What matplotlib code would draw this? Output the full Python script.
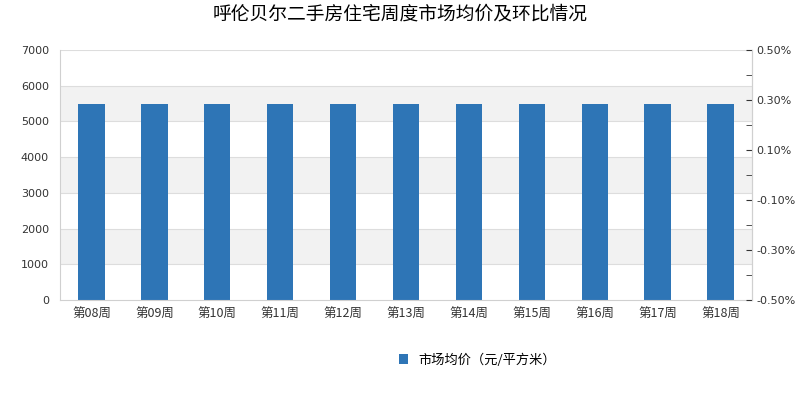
import matplotlib.pyplot as plt
from matplotlib.ticker import FuncFormatter

plt.rcParams['font.family'] = ['Noto Sans CJK SC', 'DejaVu Sans']

weeks = ['第08周', '第09周', '第10周', '第11周', '第12周', '第13周',
         '第14周', '第15周', '第16周', '第17周', '第18周']
prices = [5490, 5490, 5490, 5490, 5490, 5490, 5490, 5490, 5490, 5490, 5490]

fig = plt.figure(figsize=(8, 4), dpi=100)
ax = fig.add_axes([0.075, 0.25, 0.865, 0.625])

# alternating background bands
for lo in (1000, 3000, 5000):
    ax.axhspan(lo, lo + 1000, color='#f2f2f2', zorder=0, lw=0)
for y in range(1000, 7001, 1000):
    ax.axhline(y, color='#dddddd', lw=0.8, zorder=0.5)

x = range(len(weeks))
ax.bar(x, prices, width=0.42, color='#2e75b6', zorder=2, label='市场均价（元/平方米）')
ax.set_xlim(-0.5, len(weeks) - 0.5)
ax.set_ylim(0, 7000)
ax.set_yticks(range(0, 7001, 1000))
ax.set_xticks(list(x))
ax.set_xticklabels(weeks, fontsize=9, color='#333333')
ax.tick_params(axis='y', labelsize=8, colors='#333333', length=0, pad=8)
for lb in ax.get_yticklabels():
    lb.set_family('DejaVu Sans')
ax.tick_params(axis='x', length=0, pad=6)
for s in ax.spines.values():
    s.set_color('#d0d0d0')
ax.spines['top'].set_visible(False)

ax2 = ax.twinx()
ax2.set_ylim(-0.005, 0.005)
ax2.set_yticks([-0.005, -0.003, -0.001, 0.001, 0.003, 0.005])
ax2.set_yticks([-0.004, -0.002, 0.0, 0.002, 0.004], minor=True)
ax2.yaxis.set_major_formatter(FuncFormatter(lambda v, p: '%.2f%%' % (v * 100)))
ax2.tick_params(axis='y', which='major', labelsize=8, colors='#333333',
                length=4, direction='in', pad=3)
ax2.tick_params(axis='y', which='minor', length=4, direction='in', color='#333333')
for lb in ax2.get_yticklabels():
    lb.set_family('DejaVu Sans')
for s in ax2.spines.values():
    s.set_visible(False)
ax2.spines['right'].set_visible(True)
ax2.spines['right'].set_color('#d0d0d0')

fig.suptitle('呼伦贝尔二手房住宅周度市场均价及环比情况', fontsize=13.5, y=0.99)
fig.legend(loc='center', bbox_to_anchor=(0.597, 0.1), frameon=False, fontsize=9.5,
           handlelength=0.7, handleheight=0.7)

fig.savefig('out.png')
